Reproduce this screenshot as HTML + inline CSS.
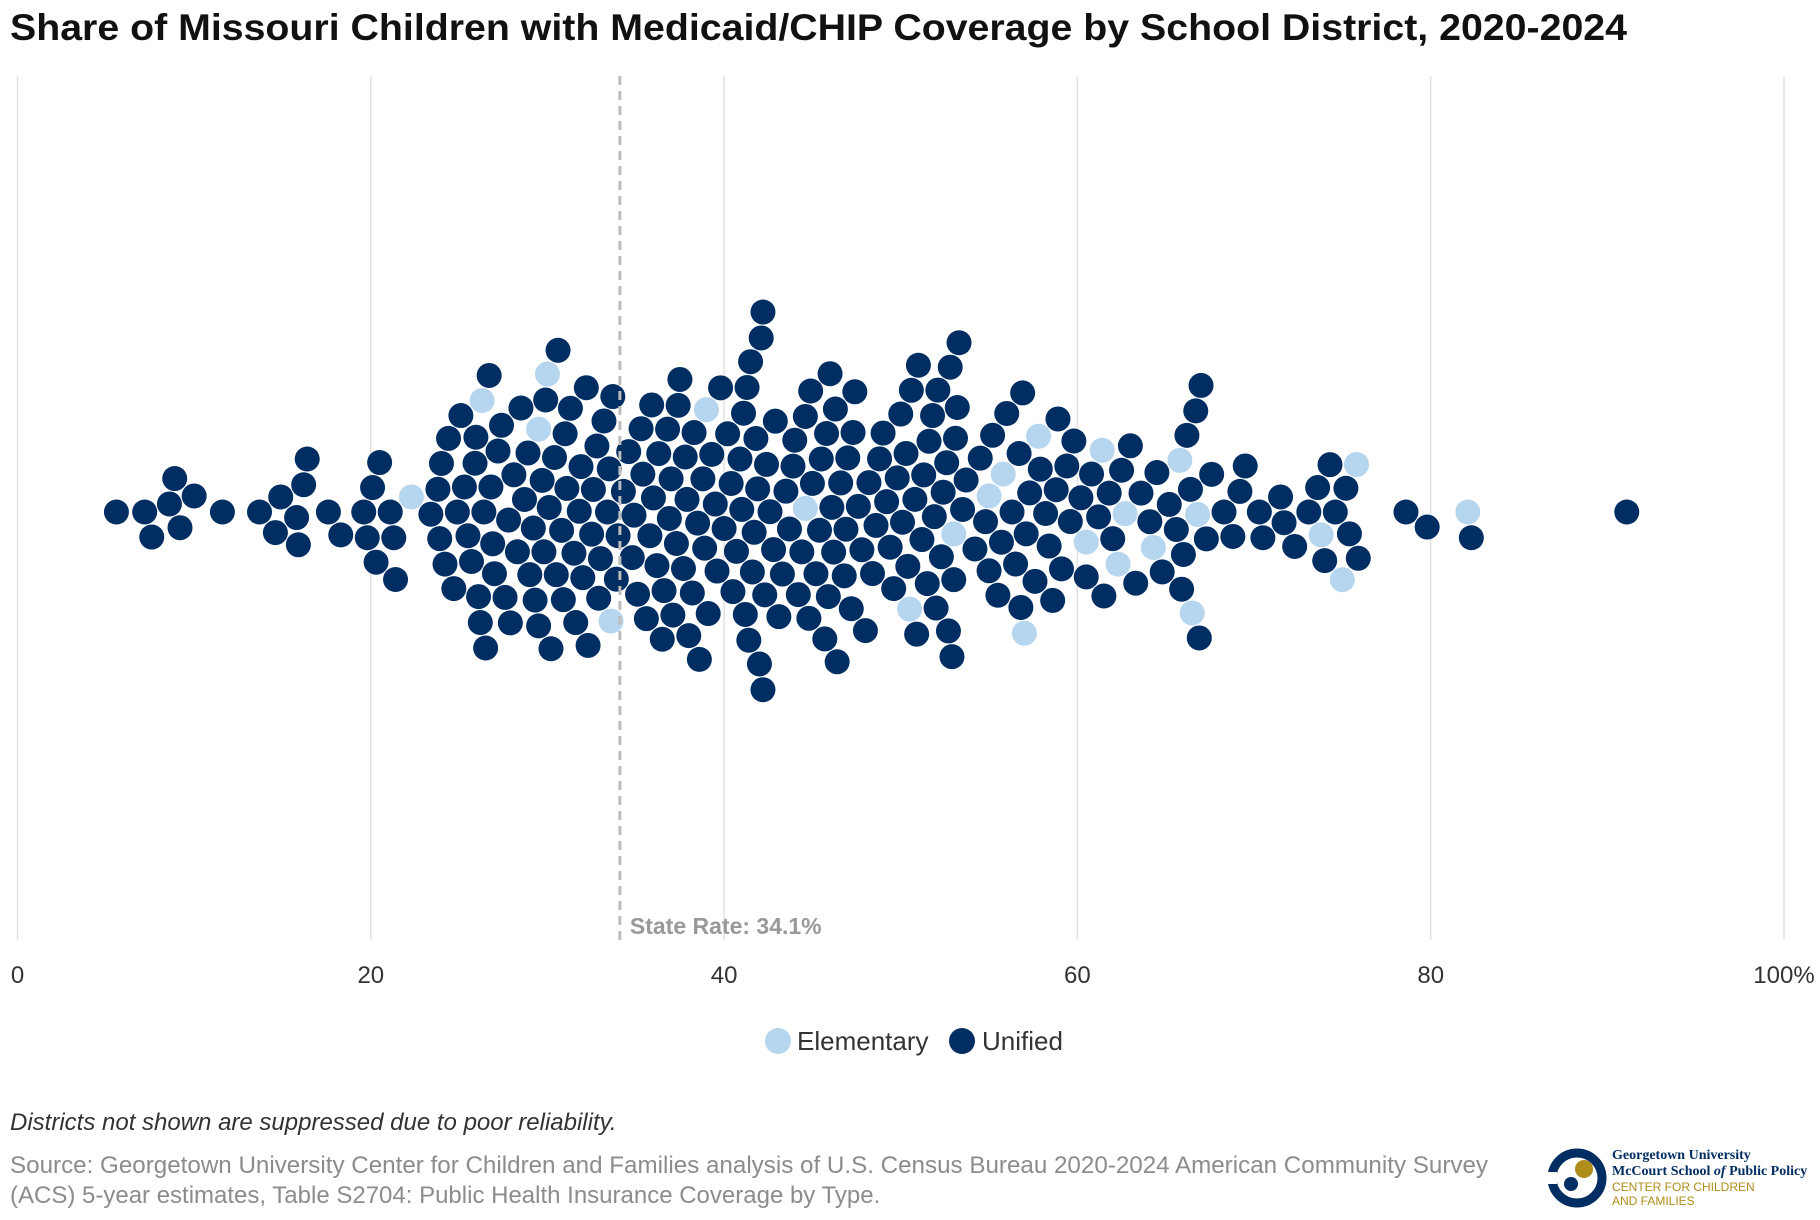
<!DOCTYPE html>
<html><head><meta charset="utf-8"><style>
body{margin:0;background:#fff;}
svg{display:block;font-family:"Liberation Sans",sans-serif;}
</style></head><body>
<svg id="chart" width="1820" height="1220" viewBox="0 0 1820 1220">
<text x="10" y="40" font-size="37" font-weight="bold" fill="#111" textLength="1617" lengthAdjust="spacingAndGlyphs">Share of Missouri Children with Medicaid/CHIP Coverage by School District, 2020-2024</text>
<g id="grid"></g>
<g id="ticks"></g>
<g id="dots"></g>
<g id="state"></g>
<g>
<g><circle cx="778" cy="1041" r="13" fill="#b6d5ef"/><text x="797" y="1050" font-size="26" fill="#333">Elementary</text></g>
<g><circle cx="962" cy="1041" r="13" fill="#002d62"/><text x="982" y="1050" font-size="26" fill="#333">Unified</text></g>
</g>
<text x="10" y="1130" font-size="24" font-style="italic" fill="#333">Districts not shown are suppressed due to poor reliability.</text>
<text x="10" y="1173" font-size="24" fill="#8c8c8c" textLength="1478" lengthAdjust="spacingAndGlyphs">Source: Georgetown University Center for Children and Families analysis of U.S. Census Bureau 2020-2024 American Community Survey</text>
<text x="10" y="1203" font-size="24" fill="#8c8c8c">(ACS) 5-year estimates, Table S2704: Public Health Insurance Coverage by Type.</text>
<g>
<circle cx="1577" cy="1178" r="25" fill="none" stroke="#002d62" stroke-width="9"/>
<rect x="1545" y="1172" width="12" height="12" fill="#fff"/>
<circle cx="1584" cy="1169" r="9" fill="#b08d1a"/>
<circle cx="1571" cy="1184" r="7" fill="#002d62"/>
<text x="1612" y="1159" font-size="14" font-family="Liberation Serif,serif" fill="#002d62" font-weight="bold">Georgetown University</text>
<text x="1612" y="1175" font-size="14" font-family="Liberation Serif,serif" fill="#002d62" font-weight="bold">McCourt School <tspan font-style="italic">of</tspan> Public Policy</text>
<text x="1612" y="1191" font-size="12" fill="#b08d1a">CENTER FOR CHILDREN</text>
<text x="1612" y="1205" font-size="12" fill="#b08d1a">AND FAMILIES</text>
</g>
</svg>
<script>
const tickValues=[0,20,40,60,80,100];
const tickLabels=["0","20","40","60","80","100%"];
const stateRate=34.1;
const elementaryValues=[22.3,26.3,29.5,30.0,33.6,39.0,44.6,50.5,53.0,55.0,55.8,57.0,57.8,60.5,61.4,62.3,62.7,64.3,65.8,66.5,66.8,73.8,75.0,75.8,82.1];
const unifiedValues=[5.6,7.2,7.6,8.6,8.9,9.2,10.0,11.6,13.7,14.6,14.9,15.8,15.9,16.2,16.4,17.6,18.3,19.6,19.8,20.1,20.3,20.5,21.1,21.3,21.4,
23.4,23.8,23.9,24.0,24.2,24.4,24.7,24.9,25.1,25.3,25.5,25.7,25.9,25.95,26.1,26.2,26.4,26.5,26.7,26.8,26.9,27.0,27.2,27.4,27.6,27.8,27.9,
28.1,28.3,28.5,28.7,28.9,29.0,29.2,29.3,29.5,29.7,29.8,29.9,30.1,30.2,30.4,30.5,30.6,30.8,30.9,31.0,31.1,31.3,31.5,31.6,31.8,31.9,
32.0,32.2,32.3,32.5,32.6,32.8,32.9,33.0,33.2,33.4,33.5,33.7,33.9,34.0,34.3,34.6,34.8,34.9,35.1,35.3,35.4,35.6,35.8,35.9,
36.0,36.2,36.3,36.5,36.6,36.8,36.9,37.0,37.1,37.3,37.4,37.5,37.7,37.8,37.9,38.0,38.2,38.3,38.5,38.6,38.8,38.9,39.1,39.3,39.5,39.6,39.8,
40.0,40.2,40.4,40.5,40.7,40.9,41.0,41.1,41.2,41.3,41.4,41.5,41.6,41.7,41.8,41.9,42.0,42.1,42.2,42.2,42.3,42.4,42.6,42.8,42.9,
43.1,43.3,43.5,43.7,43.9,44.0,44.2,44.4,44.6,44.8,44.9,45.0,45.2,45.4,45.5,45.7,45.8,45.9,46.0,46.1,46.2,46.3,46.4,46.6,46.8,46.9,
47.0,47.2,47.3,47.4,47.6,47.8,48.0,48.2,48.4,48.6,48.8,49.0,49.2,49.4,49.6,49.8,50.0,50.1,50.3,50.4,50.6,50.8,50.9,
51.0,51.2,51.3,51.5,51.6,51.8,51.9,52.0,52.1,52.3,52.4,52.6,52.7,52.8,52.9,53.0,53.1,53.2,53.3,53.5,53.7,54.2,54.5,54.8,
55.0,55.2,55.5,55.7,56.0,56.3,56.5,56.7,56.8,56.9,57.1,57.3,57.6,57.9,58.2,58.4,58.6,58.8,58.9,59.1,59.4,59.6,59.8,
60.2,60.5,60.8,61.2,61.5,61.8,62.0,62.5,63.0,63.3,63.6,64.1,64.5,64.8,65.2,65.6,65.9,66.0,66.2,66.4,66.7,66.9,67.0,67.3,67.6,
68.3,68.8,69.2,69.5,70.3,70.5,71.5,71.7,72.3,73.1,73.6,74.0,74.3,74.6,75.2,75.4,75.9,78.6,79.8,82.3,91.1];

const NS="http://www.w3.org/2000/svg";
const X0=17.5,X1=1784,YT=76,YB=940,CY=512,R=12.5,D=26;
function xScale(v){return X0+(X1-X0)*v/100;}
function mk(tag,attrs,parent){const e=document.createElementNS(NS,tag);for(const k in attrs)e.setAttribute(k,attrs[k]);parent.appendChild(e);return e;}

const grid=document.getElementById('grid'),ticks=document.getElementById('ticks');
tickValues.forEach((t,i)=>{
  const l=mk('line',{x1:xScale(t),x2:xScale(t),y1:YT,y2:YB,stroke:'#e2e2e2','stroke-width':1.5},grid);
  
  
  const tx=mk('text',{x:xScale(t),y:983,'font-size':24,fill:'#333','text-anchor':'middle'},ticks);
  tx.textContent=tickLabels[i];
  
  
});

const pts=elementaryValues.map(v=>({v,t:'e'})).concat(unifiedValues.map(v=>({v,t:'u'})));
pts.sort((a,b)=>a.v-b.v);
const placed=[];
pts.forEach(p=>{
  const x=xScale(p.v);
  const near=placed.filter(q=>Math.abs(q.x-x)<D);
  const cands=[0];
  near.forEach(q=>{const h=Math.sqrt(D*D-(q.x-x)**2);cands.push(q.y+h,q.y-h);});
  cands.sort((a,b)=>Math.abs(a)-Math.abs(b));
  let y=0;
  for(const c of cands){if(near.every(q=>(q.x-x)**2+(q.y-c)**2>=D*D-0.01)){y=c;break;}}
  placed.push({x,y,t:p.t});
});
const dots=document.getElementById('dots');
placed.forEach(p=>{
  const c=mk('circle',{cx:p.x,cy:CY+p.y,r:R,fill:p.t==='e'?'#b6d5ef':'#002d62'},dots);
  
  
});
const st=document.getElementById('state');
const sl=mk('line',{x1:xScale(stateRate),x2:xScale(stateRate),y1:YT,y2:YB,stroke:'#bdbdbd','stroke-width':3,'stroke-dasharray':'9,6'},st);


const stx=mk('text',{x:xScale(stateRate)+10,y:934,'font-size':23,'font-weight':'bold',fill:'#999'},st);
stx.textContent='State Rate: '+stateRate+'%';


</script>
</body></html>
